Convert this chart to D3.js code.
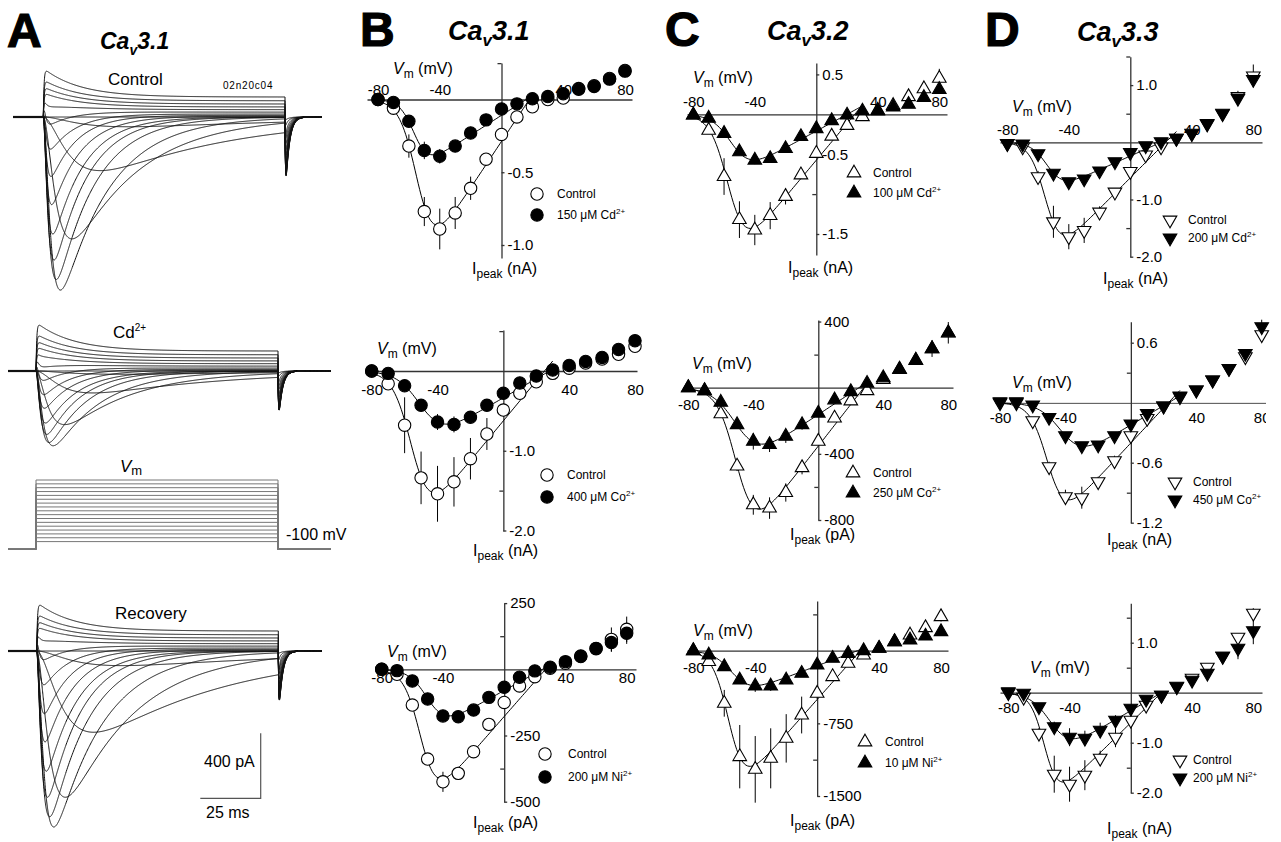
<!DOCTYPE html>
<html>
<head>
<meta charset="utf-8">
<title>T-type Ca channel block</title>
<script src="https://cdn.jsdelivr.net/npm/d3@7/dist/d3.min.js"></script>
<style>
  body { margin: 0; background: #fff; }
  text { font-family: "Liberation Sans", Arial, Helvetica, sans-serif; fill: #000; }
</style>
</head>
<body>
<svg id="fig" width="1281" height="842"></svg>
<script>
// ---------------- data ----------------
const stepMV = [-80, -70, -60, -50, -40, -30, -20, -10, 0, 10, 20, 30, 40, 50, 60, 70, 80];
const xTickMV = [-80, -40, 40, 80];

// B  Cav3.1  (I-V, mean +/- sem)
const b1Ctrl    = [0, -0.06, -0.32, -0.77, -0.89, -0.78, -0.61, -0.41, -0.24, -0.12, -0.05, 0.0, 0.01, 0.075, 0.095, 0.145, 0.2];
const b1CtrlErr = [0, 0, 0.08, 0.1, 0.14, 0.11, 0.08, 0.04, 0, 0, 0, 0, 0, 0, 0, 0, 0];
const b1Cd      = [0, -0.02, -0.15, -0.35, -0.39, -0.32, -0.23, -0.14, -0.065, -0.03, 0.005, 0.02, 0.04, 0.07, 0.09, 0.14, 0.195];
const b1CdErr   = [0, 0, 0, 0.06, 0.05, 0.03, 0, 0, 0, 0, 0, 0, 0, 0, 0, 0, 0];
const b2Ctrl    = [0, -0.16, -0.68, -1.34, -1.54, -1.39, -1.1, -0.79, -0.49, -0.28, -0.135, -0.03, 0.035, 0.1, 0.15, 0.21, 0.31];
const b2CtrlErr = [0, 0.07, 0.35, 0.33, 0.35, 0.31, 0.26, 0.2, 0.08, 0.04, 0, 0, 0, 0, 0, 0.03, 0.03];
const b2Co      = [0, -0.03, -0.185, -0.43, -0.64, -0.67, -0.58, -0.43, -0.28, -0.15, -0.063, 0.013, 0.07, 0.12, 0.17, 0.27, 0.38];
const b2CoErr   = [0, 0, 0.03, 0.05, 0.1, 0.1, 0.06, 0.05, 0, 0, 0, 0, 0, 0, 0.03, 0.04, 0.07];
const b3Ctrl    = [0, -19, -135, -339, -425, -393, -311, -208, -125, -63, -28, 4, 23, 50, 78, 113, 151];
const b3CtrlErr = [0, 0, 10, 20, 38, 25, 15, 10, 0, 0, 0, 0, 0, 15, 15, 45, 48];
const b3Ni      = [0, -5, -44, -112, -176, -179, -154, -106, -68, -30, -6, 8, 29, 48, 79, 101, 136];
const b3NiErr   = [0, 0, 0, 10, 15, 20, 15, 10, 0, 0, 0, 0, 0, 20, 20, 35, 40];

// C  Cav3.2
const c1Ctrl    = [-0.01, -0.2, -0.78, -1.32, -1.45, -1.27, -1.03, -0.76, -0.49, -0.275, -0.14, -0.03, 0.05, 0.11, 0.22, 0.32, 0.45];
const c1CtrlErr = [0, 0.03, 0.23, 0.23, 0.19, 0.17, 0.1, 0.05, 0.03, 0, 0, 0, 0, 0, 0.04, 0.06, 0.12];
const c1Cd      = [-0.01, -0.05, -0.24, -0.47, -0.575, -0.555, -0.43, -0.28, -0.18, -0.08, -0.01, 0.04, 0.04, 0.09, 0.125, 0.21, 0.31];
const c1CdErr   = [0, 0, 0, 0.04, 0.05, 0.04, 0.03, 0, 0, 0, 0, 0, 0, 0, 0, 0, 0];
const c2Ctrl    = [0, -18, -158, -474, -708, -728, -634, -484, -324, -184, -80, -18, 50, 110, 165, 235, 330];
const c2CtrlErr = [0, 0, 15, 30, 60, 65, 55, 40, 20, 15, 0, 0, 0, 0, 0, 0, 0];
const c2Co      = [0, -18, -88, -224, -324, -344, -294, -224, -154, -74, -24, 26, 60, 112, 166, 236, 332];
const c2CoErr   = [0, 0, 0, 20, 50, 45, 40, 30, 20, 0, 0, 0, 0, 0, 0, 50, 65];
const c3Ctrl    = [0, -113, -543, -1094, -1225, -1111, -905, -664, -440, -268, -131, -45, 24, 93, 162, 237, 351];
const c3CtrlErr = [0, 30, 138, 327, 344, 310, 250, 190, 60, 30, 0, 0, 0, 0, 30, 40, 50];
const c3Ni      = [0, -45, -165, -303, -365, -365, -303, -234, -148, -79, -28, 0, 24, 93, 110, 151, 196];
const c3NiErr   = [0, 0, 0, 40, 60, 50, 40, 30, 0, 0, 0, 0, 0, 0, 0, 0, 0];

// D  Cav3.3
const d1Ctrl    = [-0.02, -0.08, -0.6, -1.39, -1.65, -1.54, -1.22, -0.87, -0.51, -0.22, -0.08, 0.07, 0.16, 0.33, 0.51, 0.8, 1.16];
const d1CtrlErr = [0, 0.02, 0.1, 0.28, 0.22, 0.22, 0.1, 0.05, 0.04, 0, 0, 0, 0, 0, 0, 0.1, 0.2];
const d1Cd      = [-0.02, -0.03, -0.2, -0.54, -0.69, -0.64, -0.5, -0.34, -0.18, -0.06, 0.01, 0.07, 0.15, 0.32, 0.5, 0.77, 1.1];
const d1CdErr   = [0, 0, 0, 0.04, 0.05, 0.04, 0, 0, 0, 0, 0, 0, 0, 0, 0, 0.05, 0.08];
const d2Ctrl    = [0, 0, -0.18, -0.64, -0.94, -0.95, -0.79, -0.58, -0.33, -0.157, -0.033, 0.06, 0.127, 0.227, 0.343, 0.46, 0.68];
const d2CtrlErr = [0, 0, 0.02, 0.05, 0.07, 0.11, 0.05, 0.05, 0, 0, 0, 0, 0, 0, 0, 0.03, 0.04];
const d2Co      = [0.01, 0.01, -0.023, -0.147, -0.33, -0.43, -0.423, -0.33, -0.213, -0.107, -0.033, 0.067, 0.127, 0.227, 0.343, 0.493, 0.76];
const d2CoErr   = [0, 0, 0, 0, 0.03, 0.03, 0.03, 0, 0, 0, 0, 0, 0, 0, 0, 0.03, 0.07];
const d3Ctrl    = [0, -0.09, -0.81, -1.63, -1.83, -1.65, -1.31, -0.89, -0.55, -0.25, -0.05, 0.13, 0.29, 0.51, 0.73, 1.11, 1.59];
const d3CtrlErr = [0, 0.02, 0.1, 0.37, 0.35, 0.3, 0.15, 0.2, 0.05, 0, 0, 0, 0, 0, 0, 0.05, 0.1];
const d3Ni      = [0.02, -0.01, -0.28, -0.68, -0.89, -0.91, -0.75, -0.55, -0.31, -0.13, -0.05, 0.12, 0.25, 0.39, 0.73, 0.89, 1.24];
const d3NiErr   = [0, 0, 0.05, 0.1, 0.18, 0.15, 0.15, 0.1, 0.05, 0, 0, 0, 0, 0, 0, 0.22, 0.27];

// fitted I-V curves: [Gmax, V1/2 (mV), slope k (mV), Erev (mV)]
const b1FitCtrl = [0.016, -54, 5.5, 18],   b1FitCd = [0.0068, -56, 4.6, 16];
const b2FitCtrl = [0.025, -55, 5.6, 25],   b2FitCo = [0.012, -49, 7, 28];
const b3FitCtrl = [6.6, -54, 5.3, 27],     b3FitNi = [3.2, -49, 5.9, 25];
const c1FitCtrl = [0.023, -56.5, 5.7, 25], c1FitCd = [0.0105, -54, 6.2, 20];
const c2FitCtrl = [12.6, -49.5, 5.8, 28],  c2FitCo = [6.5, -49, 7.2, 25];
const c3FitCtrl = [18, -56.5, 5.1, 28],    c3FitNi = [6, -54, 6.1, 26];
const d1FitCtrl = [0.027, -54.5, 5, 23],   d1FitCd = [0.012, -53, 5.2, 20];
const d2FitCtrl = [0.0175, -50, 5.2, 23],  d2FitCo = [0.0097, -41, 6.6, 23];
const d3FitCtrl = [0.03, -55.7, 4.5, 20],  d3FitNi = [0.018, -51, 6.5, 20];

// A  current families, one trace per step in stepMV
const actTau   = [20, 14, 9.2, 4.6, 2.5, 1.85, 1.5, 1.3, 1.1, 1.0, 0.9, 0.8, 0.8, 0.8, 0.8, 0.8, 0.8];   // ms
const inactTau = [100, 80, 55, 28, 20, 16, 14, 13, 12, 11, 11, 11, 11, 11, 11, 11, 11];              // ms
const ctrlPeak = [0, 60, 330, 750, 1065, 1000, 880, 720, 560, 400, 250, 120, 40, 0, 0, 0, 0];        // pA inward
const cdPeak   = [0, 20, 135, 330, 460, 440, 390, 320, 250, 180, 110, 50, 15, 0, 0, 0, 0];
const recPeak  = [0, 90, 500, 900, 1083, 1020, 900, 740, 580, 420, 260, 130, 40, 0, 0, 0, 0];
const outTr    = [0, 0, 0, 0, 0, 0, 0, 0, 20, 30, 42, 56, 72, 86, 105, 128, 177];                    // pA outward, transient
const outSs    = [0, 0, 0, 0, 0, 0, 0, 0, 5, 10, 18, 30, 45, 62, 80, 100, 123];                       // pA outward, steady
const ctrlTail = [15, 40, 80, 120, 160, 200, 235, 265, 290, 310, 330, 345, 358, 368, 378, 386, 394];  // pA tail
const cdTail   = [10, 28, 55, 85, 110, 140, 160, 180, 200, 215, 228, 238, 247, 254, 260, 265, 270];
const recTail  = [12, 34, 68, 100, 135, 170, 200, 225, 245, 262, 278, 290, 302, 312, 320, 327, 332];

// ---------------- drawing ----------------
const svg = d3.select('#fig');
const INK = '#000';
const AXIS = '#333';

function richText(x, y, parts, base) {
  const t = svg.append('text').attr('x', x).attr('y', y)
    .attr('font-size', base.size)
    .attr('font-weight', base.weight || 'normal')
    .attr('font-style', base.style || 'normal')
    .attr('text-anchor', base.anchor || 'start');
  if (base.spacing) t.attr('letter-spacing', base.spacing);
  if (base.heavy) t.attr('stroke', INK).attr('stroke-width', base.heavy);
  parts.forEach(p => {
    const s = t.append('tspan').text(p.text);
    if (p.size) s.attr('font-size', p.size);
    if (p.dy) s.attr('dy', p.dy);
    if (p.style) s.attr('font-style', p.style);
  });
  return t;
}

// panel letters and titles
[['A', 7, 47], ['B', 360, 46], ['C', 665, 46], ['D', 985, 46]].forEach(([l, x, y]) =>
  richText(x, y, [{ text: l }], { size: 48, weight: 'bold', heavy: 1.2 }));
[['3.1', 100, 49, 23], ['3.1', 448, 40, 27], ['3.2', 767, 40, 27], ['3.3', 1077, 41, 27]].forEach(([n, x, y, s]) =>
  richText(x, y, [{ text: 'Ca' }, { text: 'v', size: Math.round(s * 0.62), dy: 6 }, { text: n, dy: -6 }],
    { size: s, weight: 'bold', style: 'italic' }));

// ----- panel A: current traces -----
const peakNorm = stepMV.map((v, i) => {
  let m = 0;
  for (let t = 0; t <= 200; t += 0.02) {
    const a = 1 - Math.exp(-t / actTau[i]);
    m = Math.max(m, a * a * Math.exp(-t / inactTau[i]));
  }
  return m;
});
let tailNorm = 0;
for (let s = 0; s < 5; s += 0.005) tailNorm = Math.max(tailNorm, Math.exp(-s / 1.5) - Math.exp(-s / 0.15));

function current(i, t, peak, tail) {
  if (t < 0) return 0;
  const inward = s => {
    if (!peak[i]) return 0;
    const a = 1 - Math.exp(-s / actTau[i]);
    return -peak[i] * a * a * Math.exp(-s / inactTau[i]) / peakNorm[i];
  };
  const outward = s => (outTr[i] * Math.exp(-s / 15) + outSs[i]) * (1 - Math.exp(-s / 0.3));
  if (t <= 100) return inward(t) + outward(t);
  const s = t - 100;
  const last = inward(100) + outward(100);
  return last * Math.exp(-s / 0.3) - tail[i] * (Math.exp(-s / 1.5) - Math.exp(-s / 0.15)) / tailNorm;
}

function sampleTimes(a, b) {
  const out = [];
  for (let t = a; t < 0; t += 0.5) out.push(t);
  for (let t = 0; t < 12; t += 0.05) out.push(t);
  for (let t = 12; t < 100; t += 0.25) out.push(t);
  for (let t = 100; t < 108; t += 0.05) out.push(t);
  for (let t = 108; t < b; t += 0.5) out.push(t);
  out.push(b);
  return out;
}

const tracePanels = [
  { onX: 43.3, offX: 285, baseY: 117, startX: 13, endX: 322, peak: ctrlPeak, tail: ctrlTail },
  { onX: 36, offX: 278, baseY: 371, startX: 8, endX: 331, peak: cdPeak, tail: cdTail },
  { onX: 36.7, offX: 278.3, baseY: 651, startX: 8, endX: 322, peak: recPeak, tail: recTail }
];
const traceScales = tracePanels.map(p => {
  const tx = d3.scaleLinear().domain([0, 100]).range([p.onX, p.offX]);
  const iy = d3.scaleLinear().domain([0, -400]).range([p.baseY, p.baseY + 65]);
  const ts = sampleTimes(tx.invert(p.startX), tx.invert(p.endX));
  const line = d3.line().x(d => tx(d[0])).y(d => iy(d[1]));
  const g = svg.append('g').attr('fill', 'none').attr('stroke', '#111').attr('stroke-width', 1);
  stepMV.forEach((v, i) => {
    g.append('path').attr('d', line(ts.map(t => [t, current(i, t, p.peak, p.tail)])));
  });
  // recorded baseline is noisy, so the overlapping traces read as a heavy line
  g.append('path').attr('d', line([[tx.invert(p.startX), 0], [0, 0]])).attr('stroke-width', 2.2);
  return { tx, iy };
});

// voltage protocol
const vx = d3.scaleLinear().domain([0, 100]).range([36, 278]);
const vy = d3.scaleLinear().domain([-100, 80]).range([549.3, 480]);
const protoLine = d3.line().x(d => vx(d[0])).y(d => vy(d[1]));
const protoG = svg.append('g').attr('fill', 'none').attr('stroke', '#777').attr('stroke-width', 1);
stepMV.forEach(v => {
  protoG.append('path').attr('d', protoLine([[vx.invert(8), -100], [0, -100], [0, v], [100, v], [100, -100], [vx.invert(331), -100]]));
});

// scale bar (bottom family)
{
  const { tx, iy } = traceScales[2];
  const cx = 260.7, cy = 798.3;
  const w = tx(25) - tx(0), h = iy(-400) - iy(0);
  svg.append('path').attr('d', `M${cx - w},${cy}H${cx}V${cy - h}`)
    .attr('fill', 'none').attr('stroke', '#555').attr('stroke-width', 1.2);
}

richText(108, 84.5, [{ text: 'Control' }], { size: 17 });
richText(223, 88.5, [{ text: '02n20c04' }], { size: 10, spacing: 0.8 });
richText(113, 338, [{ text: 'Cd' }, { text: '2+', size: 10, dy: -7 }], { size: 17 });
richText(120, 472, [{ text: 'V', style: 'italic' }, { text: 'm', size: 13, dy: 3 }], { size: 17 });
richText(286, 540, [{ text: '-100 mV' }], { size: 16 });
richText(115, 619, [{ text: 'Recovery' }], { size: 17 });
richText(204, 767, [{ text: '400 pA' }], { size: 16 });
richText(206, 818, [{ text: '25 ms' }], { size: 16 });

// ----- panels B-D: I-V plots -----
const boltz = (p, v) => p[0] * (v - p[3]) / (1 + Math.exp((p[1] - v) / p[2]));
const symPath = {
  circle: d3.symbol().type(d3.symbolCircle).size(120)(),
  up: d3.symbol().type(d3.symbolTriangle).size(80)(),
  down: d3.symbol().type(d3.symbolTriangle).size(80)()
};
function symbolAt(g, kind, x, y, filled) {
  g.append('path').attr('d', symPath[kind])
    .attr('transform', `translate(${x},${y})` + (kind === 'down' ? ' rotate(180)' : ''))
    .attr('fill', filled ? INK : '#fff').attr('stroke', INK).attr('stroke-width', 1.1);
}

const ivPanels = [
  { ctrl: b1Ctrl, ctrlErr: b1CtrlErr, blk: b1Cd, blkErr: b1CdErr, fitCtrl: b1FitCtrl, fitBlk: b1FitCd, fitEnd: 21,
    sym: 'circle', blkLabel: '150 μM Cd', unit: 'nA',
    xm80: 378, x80: 625, xLine: [367, 632], y0: 99.5, yRef: -1.0, yRefPx: 245, yLine: [63, 258],
    majors: [-0.5, -1.0], minors: [0.25], above: true, xPad: 4.5, vm: [393, 74], ip: [472, 274], leg: [537, 194, 215, 557] },
  { ctrl: b2Ctrl, ctrlErr: b2CtrlErr, blk: b2Co, blkErr: b2CoErr, fitCtrl: b2FitCtrl, fitBlk: b2FitCo, fitEnd: 30,
    sym: 'circle', blkLabel: '400 μM Co', unit: 'nA',
    xm80: 371.7, x80: 635, xLine: [368, 637], y0: 371, yRef: -2.0, yRefPx: 530.5, yLine: [330, 531],
    majors: [-1.0, -2.0], minors: [0.5, -1.5], above: false, xPad: 13.4, vm: [377, 354], ip: [473, 556], leg: [547, 475, 497, 567] },
  { ctrl: b3Ctrl, ctrlErr: b3CtrlErr, blk: b3Ni, blkErr: b3NiErr, fitCtrl: b3FitCtrl, fitBlk: b3FitNi, fitEnd: 30,
    sym: 'circle', blkLabel: '200 μM Ni', unit: 'pA',
    xm80: 381.7, x80: 626.7, xLine: [375, 636], y0: 669.3, yRef: -500, yRefPx: 801.7, yLine: [603, 802],
    majors: [250, -250, -500], minors: [125, -375], above: false, xPad: 3.4, vm: [387, 657], ip: [473, 828], leg: [545, 754, 777, 568] },
  { ctrl: c1Ctrl, ctrlErr: c1CtrlErr, blk: c1Cd, blkErr: c1CdErr, fitCtrl: c1FitCtrl, fitBlk: c1FitCd, fitEnd: 30,
    sym: 'up', blkLabel: '100 μM Cd', unit: 'nA',
    xm80: 693.3, x80: 939.3, xLine: [687, 947], y0: 114.3, yRef: -1.5, yRefPx: 234, yLine: [63, 255],
    majors: [0.5, -0.5, -1.5], minors: [-1.0], above: true, xPad: 7, vm: [693, 83], ip: [788, 273], leg: [854, 173, 193, 873] },
  { ctrl: c2Ctrl, ctrlErr: c2CtrlErr, blk: c2Co, blkErr: c2CoErr, fitCtrl: c2FitCtrl, fitBlk: c2FitCo, fitEnd: 30,
    sym: 'up', blkLabel: '250 μM Co', unit: 'pA',
    xm80: 688.3, x80: 948.3, xLine: [683, 953], y0: 387.7, yRef: -800, yRefPx: 520, yLine: [320, 520],
    majors: [400, -400, -800], minors: [200, -600], above: false, xPad: 11.7, vm: [692, 369], ip: [790, 540], leg: [853, 473, 493, 873] },
  { ctrl: c3Ctrl, ctrlErr: c3CtrlErr, blk: c3Ni, blkErr: c3NiErr, fitCtrl: c3FitCtrl, fitBlk: c3FitNi, fitEnd: 30,
    sym: 'up', blkLabel: '10 μM Ni', unit: 'pA',
    xm80: 693.3, x80: 941, xLine: [687, 948], y0: 650.7, yRef: -1500, yRefPx: 796, yLine: [601, 796],
    majors: [-750, -1500], minors: [375, -1125], above: false, xPad: 12, vm: [693, 636], ip: [790, 826], leg: [865, 742, 763, 885] },
  { ctrl: d1Ctrl, ctrlErr: d1CtrlErr, blk: d1Cd, blkErr: d1CdErr, fitCtrl: d1FitCtrl, fitBlk: d1FitCd, fitEnd: 30,
    sym: 'down', blkLabel: '200 μM Cd', unit: 'nA',
    xm80: 1007.3, x80: 1253.3, xLine: [1000, 1262], y0: 142.3, yRef: -2.0, yRefPx: 256.7, yLine: [56.7, 257],
    majors: [1.0, -1.0, -2.0], minors: [1.5, 0.5, -1.5], above: true, xPad: 7.3, vm: [1012, 112], ip: [1103, 284], leg: [1170, 220, 238, 1188] },
  { ctrl: d2Ctrl, ctrlErr: d2CtrlErr, blk: d2Co, blkErr: d2CoErr, fitCtrl: d2FitCtrl, fitBlk: d2FitCo, fitEnd: 30,
    sym: 'down', blkLabel: '450 μM Co', unit: 'nA', clipX: 1266,
    xm80: 1000, x80: 1261.7, xLine: [995, 1281], y0: 402.7, yRef: -1.2, yRefPx: 522.7, yLine: [321.7, 522.7],
    majors: [0.6, -0.6, -1.2], minors: [0.3, -0.9], above: false, xPad: 10, vm: [1012, 388], ip: [1107, 545], leg: [1175, 482, 500, 1193] },
  { ctrl: d3Ctrl, ctrlErr: d3CtrlErr, blk: d3Ni, blkErr: d3NiErr, fitCtrl: d3FitCtrl, fitBlk: d3FitNi, fitEnd: 20,
    sym: 'down', blkLabel: '200 μM Ni', unit: 'nA',
    xm80: 1008.3, x80: 1253.3, xLine: [1000, 1262], y0: 692.7, yRef: -2.0, yRefPx: 792.7, yLine: [603.3, 792.7],
    majors: [1.0, -1.0, -2.0], minors: [1.5, 0.5, -1.5], above: false, xPad: 10, vm: [1030, 673], ip: [1107, 834], leg: [1180, 760, 778, 1193] }
];

svg.append('defs').append('clipPath').attr('id', 'clipRight')
  .append('rect').attr('x', 0).attr('y', 0).attr('width', 1266).attr('height', 842);

ivPanels.forEach(cfg => {
  const g = svg.append('g');
  const x = d3.scaleLinear().domain([-80, 80]).range([cfg.xm80, cfg.x80]);
  const y = d3.scaleLinear().domain([0, cfg.yRef]).range([cfg.y0, cfg.yRefPx]);
  const fmt = cfg.unit === 'pA' ? (d => String(d)) : (d => d.toFixed(1));

  // x axis (Vm)
  const xAx = d3.scaleLinear().domain(cfg.xLine.map(px => x.invert(px))).range(cfg.xLine);
  const xAxis = (cfg.above ? d3.axisTop(xAx) : d3.axisBottom(xAx))
    .tickValues(xTickMV).tickSize(0).tickSizeOuter(0).tickPadding(cfg.xPad).tickFormat(d => String(d));
  const xg = g.append('g').attr('transform', `translate(0,${cfg.y0})`).call(xAxis)
    .attr('font-size', 15).attr('font-family', null);
  if (cfg.clipX) xg.attr('clip-path', 'url(#clipRight)');

  // y axis (Ipeak)
  const yAx = d3.scaleLinear().domain(cfg.yLine.map(px => y.invert(px))).range(cfg.yLine);
  g.append('g').attr('transform', `translate(${x(0)},0)`)
    .call(d3.axisRight(yAx).tickValues(cfg.majors).tickSize(3).tickPadding(3).tickSizeOuter(0).tickFormat(fmt))
    .attr('font-size', 15).attr('font-family', null);
  g.append('g').attr('transform', `translate(${x(0)},0)`)
    .call(d3.axisLeft(yAx).tickValues(cfg.minors).tickSize(4).tickSizeOuter(0).tickFormat(''))
    .call(s => s.select('.domain').remove());
  g.selectAll('.domain').attr('stroke', AXIS).attr('stroke-width', 1.3);
  g.selectAll('.tick line').attr('stroke', AXIS).attr('stroke-width', 1.3);
  g.selectAll('.tick text').attr('fill', INK);

  // fitted curves
  const fitV = d3.range(-80, cfg.fitEnd + 0.01, 1);
  const fitLine = d3.line().x(v => x(v)).y(v => y(boltz(cfg.fitCtrl, v)));
  g.append('path').attr('d', fitLine(fitV)).attr('fill', 'none').attr('stroke', INK).attr('stroke-width', 1);
  g.append('path').attr('d', fitLine.y(v => y(boltz(cfg.fitBlk, v)))(fitV))
    .attr('fill', 'none').attr('stroke', INK).attr('stroke-width', 1);

  // error bars
  [[cfg.ctrl, cfg.ctrlErr], [cfg.blk, cfg.blkErr]].forEach(([vals, errs]) => {
    stepMV.forEach((v, i) => {
      if (!errs[i]) return;
      g.append('line').attr('x1', x(v)).attr('x2', x(v))
        .attr('y1', y(vals[i] - errs[i])).attr('y2', y(vals[i] + errs[i]))
        .attr('stroke', INK).attr('stroke-width', 1);
    });
  });

  // symbols: control (open) then blocker (filled)
  stepMV.forEach((v, i) => symbolAt(g, cfg.sym, x(v), y(cfg.ctrl[i]), false));
  stepMV.forEach((v, i) => symbolAt(g, cfg.sym, x(v), y(cfg.blk[i]), true));

  // axis titles
  richText(cfg.vm[0], cfg.vm[1], [{ text: 'V', style: 'italic' }, { text: 'm', size: 12, dy: 4 }, { text: ' (mV)', dy: -4 }], { size: 16 });
  richText(cfg.ip[0], cfg.ip[1], [{ text: 'I' }, { text: 'peak', size: 12, dy: 4 }, { text: ' (' + cfg.unit + ')', dy: -4 }], { size: 16 });

  // legend
  const [lx, ly1, ly2, tx] = cfg.leg;
  symbolAt(g, cfg.sym, lx, ly1, false);
  symbolAt(g, cfg.sym, lx, ly2, true);
  richText(tx, ly1 + 4, [{ text: 'Control' }], { size: 12 });
  richText(tx, ly2 + 4, [{ text: cfg.blkLabel }, { text: '2+', size: 8, dy: -5 }], { size: 12 });
});
</script>
</body>
</html>
